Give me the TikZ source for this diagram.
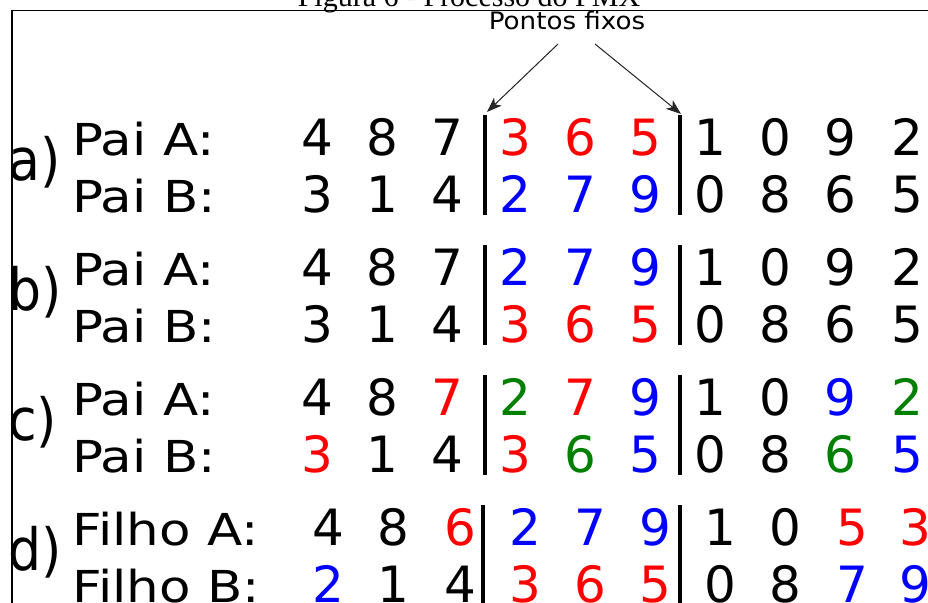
\documentclass[tikz,border=0pt]{standalone}
\usepackage{fontspec}
\setmainfont{DejaVu Sans}
\newfontfamily\capfont{Liberation Serif}
\usetikzlibrary{arrows.meta}
\definecolor{cR}{RGB}{255,0,0}
\definecolor{cB}{RGB}{0,0,255}
\definecolor{cG}{RGB}{0,128,0}
\definecolor{cK}{RGB}{0,0,0}
\newcommand\digrow[3]{\foreach \xx/\dd/\cc [count=\k] in {#3} {\node[dig,text=\cc] (#1-\k) at (\xx,#2) {\dd};}}
\newcommand\labtxt[1]{\scalebox{1.17}[1]{#1}}
\newcommand\lettxt[1]{\scalebox{1}[1.12]{#1}}
\begin{document}
\begin{tikzpicture}[x=1pt,y=-1pt,
  dig/.style={anchor=base,inner sep=0pt,font=\fontsize{50}{60}\selectfont},
  lab/.style={anchor=base west,inner sep=0pt,font=\fontsize{44}{52}\selectfont},
  letter/.style={anchor=base west,inner sep=0pt,font=\fontsize{52}{62}\selectfont},
  bar/.style={line width=3.4pt},
  arr/.style={-{Stealth[length=15pt,width=11pt,inset=4pt]},line width=1pt,draw=black!85,fill=black!85}]
\useasboundingbox (0,0) rectangle (928,602);
\node[anchor=base,inner sep=0pt,font=\capfont\fontsize{30}{36}\selectfont] (cap) at (469,6.5) {Figura 6 - Processo do PMX};
\draw[line width=1.5pt] (928,10.5) -- (12,10.5) -- (12,610);
% title and arrows
\node[anchor=base,inner sep=0pt,font=\fontsize{24}{29}\selectfont] (pf) at (567,30) {\scalebox{1.09}[1]{Pontos fixos}};
\coordinate (pfL) at (558,44);
\coordinate (pfR) at (595,44);
\coordinate (tipL) at (487,112);
\coordinate (tipR) at (681,114);
\draw[arr] (pfL) -- (tipL);
\draw[arr] (pfR) -- (tipR);
% row letters
\node[letter] (ta) at (8,180) {\lettxt{a)}};
\node[letter] (tb) at (8,310) {\lettxt{b)}};
\node[letter] (tc) at (8,440) {\lettxt{c)}};
\node[letter] (td) at (8,570) {\lettxt{d)}};
% labels
\node[lab] (la1) at (72,155) {\labtxt{Pai A:}};
\node[lab] (la2) at (72,212) {\labtxt{Pai B:}};
\node[lab] (lb1) at (72,285) {\labtxt{Pai A:}};
\node[lab] (lb2) at (72,342) {\labtxt{Pai B:}};
\node[lab] (lc1) at (72,415) {\labtxt{Pai A:}};
\node[lab] (lc2) at (72,472) {\labtxt{Pai B:}};
\node[lab] (ld1) at (72,545) {\labtxt{Filho A:}};
\node[lab] (ld2) at (72,602) {\labtxt{Filho B:}};
% digits
\digrow{a1}{155}{317/4/cK,382/8/cK,447/7/cK,515/3/cR,580/6/cR,645/5/cR,710/1/cK,775/0/cK,840/9/cK,907/2/cK}
\digrow{a2}{212}{317/3/cK,382/1/cK,447/4/cK,515/2/cB,580/7/cB,645/9/cB,710/0/cK,775/8/cK,840/6/cK,907/5/cK}
\digrow{b1}{285}{317/4/cK,382/8/cK,447/7/cK,515/2/cB,580/7/cB,645/9/cB,710/1/cK,775/0/cK,840/9/cK,907/2/cK}
\digrow{b2}{342}{317/3/cK,382/1/cK,447/4/cK,515/3/cR,580/6/cR,645/5/cR,710/0/cK,775/8/cK,840/6/cK,907/5/cK}
\digrow{c1}{415}{317/4/cK,382/8/cK,447/7/cR,515/2/cG,580/7/cR,645/9/cB,710/1/cK,775/0/cK,840/9/cB,907/2/cG}
\digrow{c2}{472}{317/3/cR,382/1/cK,447/4/cK,515/3/cR,580/6/cG,645/5/cB,710/0/cK,775/8/cK,840/6/cG,907/5/cB}
\digrow{d1}{545}{328/4/cK,393/8/cK,460/6/cR,525/2/cB,590/7/cB,655/9/cB,720/1/cK,785/0/cK,852/5/cR,915/3/cR}
\digrow{d2}{602}{328/2/cB,393/1/cK,460/4/cK,525/3/cR,590/6/cR,655/5/cR,720/0/cK,785/8/cK,852/7/cB,915/9/cB}
% bars
\draw[bar] (485,115) -- (485,215);
\draw[bar] (680,115) -- (680,215);
\draw[bar] (485,245) -- (485,345);
\draw[bar] (680,245) -- (680,345);
\draw[bar] (485,375) -- (485,475);
\draw[bar] (680,375) -- (680,475);
\draw[bar] (483,505) -- (483,610);
\draw[bar] (680,505) -- (680,610);
\end{tikzpicture}
\end{document}
